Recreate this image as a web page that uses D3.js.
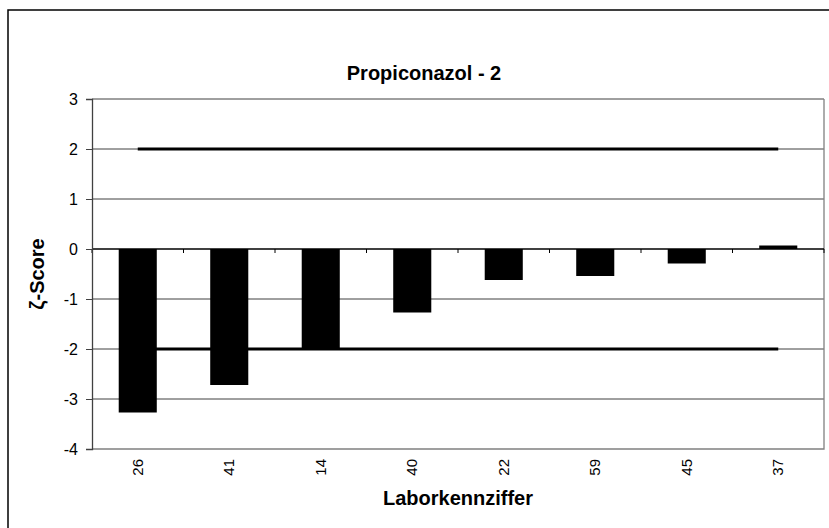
<!DOCTYPE html>
<html><head><meta charset="utf-8">
<script src="https://cdn.jsdelivr.net/npm/d3@7"></script>
<style>body{margin:0;background:#fff}svg{display:block}text{font-family:"Liberation Sans",Arial,sans-serif}</style>
</head><body>
<svg id="c" width="829" height="528"></svg>
<script>
const categories = ["26","41","14","40","22","59","45","37"];
const zScores = [-3.27, -2.72, -2.02, -1.27, -0.62, -0.54, -0.29, 0.07];
const limitUpper = 2;
const limitLower = -2;
const yTicks = [-4,-3,-2,-1,0,1,2,3];
const title = "Propiconazol - 2";
const xTitle = "Laborkennziffer";
const yTitle = "ζ-Score";

const svg = d3.select("#c");
const L = 92, R = 824, T = 99, B = 449;

svg.append("rect").attr("x",8).attr("y",10).attr("width",840).attr("height",540)
  .attr("fill","#fff").attr("stroke","#000").attr("stroke-width",1.5);

const x = d3.scaleBand().domain(categories).range([L,R]).padding(0);
const y = d3.scaleLinear().domain([-4,3]).range([B,T]);

// gridlines
svg.append("g").selectAll("line").data(yTicks.filter(v=>v!==0 && v!==-4)).join("line")
  .attr("x1",L).attr("x2",R).attr("y1",d=>y(d)).attr("y2",d=>y(d))
  .attr("stroke","#404040").attr("stroke-width",1);
// plot border right & bottom
svg.append("path").attr("d",`M${L},${B}H${R}V${T}`).attr("fill","none").attr("stroke","#808080").attr("stroke-width",1.3);

// bars
const bw = x.bandwidth()*0.416;
svg.append("g").selectAll("rect").data(zScores).join("rect")
  .attr("x",(d,i)=>x(categories[i])+x.bandwidth()/2-bw/2)
  .attr("width",bw)
  .attr("y",d=>Math.min(y(d),y(0)))
  .attr("height",d=>Math.abs(y(d)-y(0)))
  .attr("fill","#000");

// limit lines
const xc0 = x(categories[0])+x.bandwidth()/2, xc1 = x(categories[categories.length-1])+x.bandwidth()/2;
[limitUpper,limitLower].forEach(v=>{
  svg.append("line").attr("x1",xc0).attr("x2",xc1).attr("y1",y(v)).attr("y2",y(v))
    .attr("stroke","#000").attr("stroke-width",3);
});

// zero axis with ticks at category boundaries
const zx = svg.append("g").attr("transform",`translate(0,${y(0)})`)
  .call(d3.axisBottom(x).tickSize(0).tickFormat(""));
zx.select(".domain").attr("stroke","#000").attr("stroke-width",1.3).attr("d",`M${L},0H${R}`);
svg.append("g").selectAll("line").data(d3.range(categories.length+1)).join("line")
  .attr("x1",i=>L+i*x.step()).attr("x2",i=>L+i*x.step())
  .attr("y1",y(0)).attr("y2",y(0)+4).attr("stroke","#000").attr("stroke-width",1);

// left axis
const ya = svg.append("g").attr("transform",`translate(${L},0)`)
  .call(d3.axisLeft(y).tickValues(yTicks).tickSize(6).tickPadding(8).tickFormat(d3.format("d")));
ya.select(".domain").attr("stroke","#404040").attr("stroke-width",1.3);
ya.selectAll(".tick line").attr("stroke","#404040");
ya.selectAll("text").attr("font-size",16).attr("fill","#000").text(d=>d<0?"-"+Math.abs(d):d);

// x labels (rotated)
svg.append("g").selectAll("text").data(categories).join("text")
  .attr("transform",d=>`translate(${x(d)+x.bandwidth()/2+5},459) rotate(-90)`)
  .attr("text-anchor","end").attr("font-size",15).text(d=>d);

svg.append("text").attr("x",424).attr("y",80).attr("text-anchor","middle")
  .attr("font-size",20).attr("font-weight","bold").text(title);
svg.append("text").attr("x",(L+R)/2).attr("y",505).attr("text-anchor","middle")
  .attr("font-size",20).attr("font-weight","bold").text(xTitle);
svg.append("text").attr("transform",`translate(44,${(T+B)/2}) rotate(-90)`).attr("text-anchor","middle")
  .attr("font-size",20).attr("font-weight","bold").text(yTitle);
</script>
</body></html>
